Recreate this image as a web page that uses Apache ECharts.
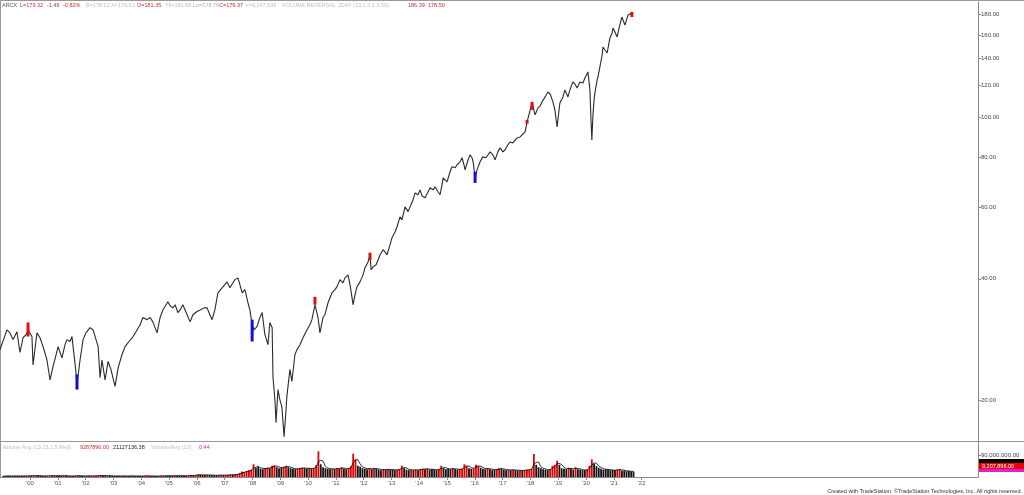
<!DOCTYPE html>
<html><head><meta charset="utf-8">
<script src="https://cdn.jsdelivr.net/npm/echarts@6/dist/echarts.min.js"></script>
<style>html,body{margin:0;padding:0;background:#fff}#c{width:1024px;height:495px}</style>
</head><body><div id="c"></div>
<script>
// ---- data (decimal years / prices) ----
const dates = [1998.92,1999.17,1999.28,1999.39,1999.53,1999.64,1999.75,1999.86,1999.93,2000.07,2000.11,2000.25,2000.36,2000.47,2000.61,2000.72,2000.83,2000.94,2001.01,2001.15,2001.26,2001.33,2001.44,2001.51,2001.55,2001.65,2001.69,2001.80,2001.91,2002.01,2002.16,2002.27,2002.34,2002.45,2002.52,2002.59,2002.70,2002.81,2002.91,2003.06,2003.17,2003.31,2003.42,2003.56,2003.71,2003.85,2003.96,2004.06,2004.21,2004.32,2004.42,2004.57,2004.68,2004.78,2004.96,2005.04,2005.14,2005.22,2005.32,2005.40,2005.50,2005.65,2005.76,2005.86,2006.01,2006.12,2006.26,2006.37,2006.47,2006.55,2006.65,2006.76,2006.91,2007.09,2007.19,2007.30,2007.37,2007.48,2007.55,2007.63,2007.73,2007.84,2007.91,2007.99,2008.06,2008.17,2008.27,2008.35,2008.45,2008.56,2008.63,2008.71,2008.74,2008.81,2008.85,2008.92,2008.99,2009.06,2009.14,2009.21,2009.24,2009.35,2009.42,2009.53,2009.60,2009.71,2009.82,2009.96,2010.07,2010.14,2010.25,2010.36,2010.43,2010.54,2010.61,2010.72,2010.86,2010.97,2011.04,2011.15,2011.26,2011.33,2011.44,2011.51,2011.58,2011.62,2011.69,2011.76,2011.87,2011.98,2012.05,2012.16,2012.23,2012.27,2012.34,2012.45,2012.52,2012.59,2012.70,2012.77,2012.84,2012.95,2013.02,2013.13,2013.20,2013.31,2013.38,2013.49,2013.60,2013.67,2013.78,2013.85,2013.96,2014.03,2014.10,2014.21,2014.32,2014.39,2014.50,2014.57,2014.68,2014.75,2014.82,2014.86,2015.00,2015.11,2015.18,2015.29,2015.36,2015.47,2015.54,2015.61,2015.65,2015.76,2015.83,2015.90,2015.94,2016.01,2016.08,2016.19,2016.29,2016.40,2016.55,2016.65,2016.73,2016.83,2016.91,2017.01,2017.09,2017.19,2017.27,2017.37,2017.52,2017.63,2017.70,2017.81,2017.88,2017.95,2018.06,2018.17,2018.27,2018.35,2018.42,2018.53,2018.63,2018.71,2018.81,2018.88,2018.96,2018.99,2019.06,2019.17,2019.24,2019.35,2019.42,2019.53,2019.60,2019.68,2019.78,2019.89,2019.96,2020.07,2020.14,2020.18,2020.21,2020.25,2020.29,2020.32,2020.40,2020.43,2020.50,2020.58,2020.61,2020.68,2020.76,2020.86,2020.94,2020.97,2021.04,2021.12,2021.19,2021.29,2021.40,2021.51,2021.58,2021.65];
const closes = [26.7,29.9,29.4,28.3,29.6,26.3,28.6,29.1,29.9,28.8,24.5,29.4,28.6,27.2,25.2,22.5,24.3,26.0,27.2,25.5,27.5,28.3,28.0,28.8,27.2,23.6,21.9,25.2,28.3,29.4,30.3,29.9,29.6,27.2,22.8,25.2,22.5,25.0,23.9,21.7,24.1,26.0,27.2,28.0,28.8,29.9,30.8,32.1,31.7,32.1,31.3,29.4,32.1,33.5,35.1,34.3,33.9,34.5,33.0,33.5,34.5,32.6,31.3,32.6,33.2,33.5,33.9,33.9,32.6,31.7,33.5,36.9,38.0,39.3,38.0,39.1,39.8,40.2,38.7,36.9,37.6,34.9,33.5,30.8,29.9,30.5,32.1,33.0,29.1,27.5,31.2,30.3,22.9,20.1,17.65,21.3,20.1,19.3,16.3,19.0,20.5,23.9,22.3,26.0,26.7,27.5,28.6,29.9,30.8,31.7,34.5,32.1,29.4,32.1,32.6,34.9,36.9,37.6,38.2,39.8,39.1,40.2,40.9,38.7,36.1,34.5,36.5,38.2,39.3,40.9,42.6,44.0,45.8,42.1,42.8,43.3,44.5,45.8,47.2,46.6,45.8,48.5,50.5,52.2,53.7,56.9,55.9,60.2,58.6,59.2,62.7,65.2,64.5,66.3,64.1,63.4,65.6,67.1,66.3,67.5,65.6,64.5,68.2,71.0,69.4,73.5,75.6,75.2,76.5,77.8,79.6,76.5,74.3,78.7,80.9,79.6,77.8,71.0,74.3,77.8,80.0,79.6,82.3,80.9,78.7,82.3,84.2,82.3,83.3,85.7,87.1,86.6,89.1,89.6,90.7,92.2,97.6,98.7,108.7,101.6,105.7,106.9,109.4,112.5,115.7,114.4,109.4,104.5,94.9,98.7,108.7,112.5,117.1,112.5,117.1,122.5,121.1,118.4,122.5,121.8,125.3,129.7,117.1,98.7,88.1,101.6,110.6,115.1,123.9,126.0,133.4,142.8,149.4,146.9,144.4,157.3,161.8,166.5,162.7,158.2,166.5,177.2,169.3,179.2,177.2,181.2];

// highlighted reversal bars: [date, low, high]
const redMarks = [[1999.93,28.8,31.2],[2010.25,34.5,36.1],[2012.23,44.5,46.4],[2017.88,96.6,98.7],[2018.06,104.5,109.4],[2021.65,177.2,182.5]];
const blueMarks = [[2001.69,21.3,23.2],[2007.99,28.0,31.7],[2016.01,69.0,73.5]];

// volume, millions, monthly from Jan 1999
const volStartYear = 1999;
const volumeM = [
 4,4,5,4,4,5,4,4,5,4,5,5,
 5,6,6,5,5,4,4,5,5,6,5,5,
 5,5,6,5,4,4,4,5,6,5,4,4,
 5,5,4,5,5,6,7,5,5,6,5,4,
 4,4,5,4,4,5,4,4,5,4,4,4,
 4,5,5,4,4,4,4,4,5,5,5,5,
 5,5,6,5,5,5,5,5,6,7,6,8,
 10,9,8,8,9,8,7,7,7,8,8,7,
 8,8,10,9,10,12,16,22,20,24,28,30,
 52,36,42,34,32,36,38,36,46,48,40,36,
 38,42,46,40,36,34,32,34,36,38,36,34,
 36,34,36,48,105,52,40,36,34,32,34,32,
 36,34,40,34,32,36,44,95,72,46,42,36,
 34,32,36,32,36,34,30,28,32,30,32,30,
 30,28,30,32,46,36,30,28,30,28,30,28,
 32,34,32,34,30,32,30,28,32,46,36,32,
 34,32,36,32,30,32,34,52,46,36,34,36,
 50,46,38,34,32,36,32,28,30,32,36,34,
 30,28,30,28,30,28,26,28,26,28,30,30,
 34,94,50,40,36,32,30,28,32,46,50,66,
 50,36,34,32,38,34,30,40,32,30,28,28,
 30,46,72,54,44,38,34,30,32,30,28,28,
 28,30,32,26,26,24,24,22,22];

const priceTicks = [20,40,60,80,100,120,140,160,180];
const yearTicks = [2000,2001,2002,2003,2004,2005,2006,2007,2008,2009,2010,2011,2012,2013,2014,2015,2016,2017,2018,2019,2020,2021,2022];

// ---- build ----
const X0 = 1998.921, X1 = 2034.10;
const priceData = dates.map((d,i)=>[d, closes[i]]);
const volData = volumeM.map((v,i)=>[volStartYear + (i+0.5)/12, v*1e6]);
const avgData = volData.map((p,i)=>{const s=volData.slice(Math.max(0,i-2),i+1);return [p[0], s.reduce((a,b)=>a+b[1],0)/s.length];});
const FONT = 'Liberation Sans, Arial, sans-serif';

function markSeries(data, color){
  return {type:'custom', xAxisIndex:0, yAxisIndex:0, data:data, z:5,
    renderItem:(params, api)=>{
      const a = api.coord([api.value(0), api.value(1)]);
      const b = api.coord([api.value(0), api.value(2)]);
      return {type:'rect', shape:{x:a[0]-1.5, y:b[1], width:3, height:Math.max(1,a[1]-b[1])}, style:{fill:color}};
    }};
}

function txt(x,y,t,color,size,align){
  return {type:'text', x:x, y:y, style:{text:t, fill:color, font:(size||5.5)+'px '+FONT, textAlign:align||'left', textVerticalAlign:'middle'}, silent:true};
}

const chart = echarts.init(document.getElementById('c'), null, {renderer:'canvas'});
chart.setOption({
  animation:false,
  backgroundColor:'#fff',
  grid:[
    {left:0, right:46, top:2, height:439},
    {left:0, right:46, top:442, height:35}
  ],
  xAxis:[
    {type:'value', gridIndex:0, min:X0, max:X1, show:false},
    {type:'value', gridIndex:1, min:X0, max:X1,
     axisLine:{show:true, lineStyle:{color:'#888', width:1}},
     axisTick:{show:true, customValues:yearTicks, length:3, lineStyle:{color:'#888'}},
     axisLabel:{show:true, customValues:yearTicks, margin:3, fontSize:6, fontFamily:FONT, color:'#555',
       formatter:v=>"'"+String(Math.round(v)).slice(2)},
     splitLine:{show:false}}
  ],
  yAxis:[
    {type:'log', logBase:10, gridIndex:0, position:'right', min:15.9, max:193,
     axisLine:{show:true, lineStyle:{color:'#888'}},
     axisTick:{show:true, customValues:priceTicks, length:3, inside:false, lineStyle:{color:'#888'}},
     axisLabel:{show:true, customValues:priceTicks, margin:3, fontSize:6, fontFamily:FONT, color:'#444',
       formatter:v=>Number(v).toFixed(2)},
     splitLine:{show:false}},
    {type:'value', gridIndex:1, position:'right', min:0, max:143e6, interval:90e6,
     axisLine:{show:true, lineStyle:{color:'#888'}},
     axisTick:{show:true, customValues:[90e6], length:3, lineStyle:{color:'#888'}},
     axisLabel:{show:true, customValues:[90e6], margin:3, fontSize:6, fontFamily:FONT, color:'#444',
       formatter:v=>Number(v).toLocaleString('en-US',{minimumFractionDigits:2, maximumFractionDigits:2})},
     splitLine:{show:false}}
  ],
  series:[
    {type:'line', xAxisIndex:0, yAxisIndex:0, data:priceData, showSymbol:false, symbol:'none',
     lineStyle:{color:'#2a2a2a', width:1.1}, z:3},
    markSeries(redMarks, '#e01010'),
    markSeries(blueMarks, '#1010d0'),
    {type:'bar', xAxisIndex:1, yAxisIndex:1, data:volData, barWidth:1.8, z:2,
     itemStyle:{color:p=>volData[p.dataIndex][1] > avgData[p.dataIndex][1] ? '#e00000' : '#111'}},
    {type:'line', xAxisIndex:1, yAxisIndex:1, data:avgData, showSymbol:false, symbol:'none',
     lineStyle:{color:'#000', width:0.8}, z:4}
  ],
  graphic:[
    {type:'line', shape:{x1:0,y1:0.5,x2:1024,y2:0.5}, style:{stroke:'#999', lineWidth:1}, silent:true},
    {type:'line', shape:{x1:0.5,y1:0,x2:0.5,y2:477}, style:{stroke:'#999', lineWidth:1}, silent:true},
    {type:'line', shape:{x1:0,y1:441.5,x2:1024,y2:441.5}, style:{stroke:'#999', lineWidth:1}, silent:true},
    txt(2,5.5,'ARCX','#555'),
    txt(20,5.5,'L=179.32','#d03030'),
    txt(47,5.5,'-1.46','#d03030'),
    txt(63,5.5,'-0.82%','#d03030'),
    txt(86,5.5,'B=178.92','#c0c0c0'),
    txt(111,5.5,'A=179.61','#c0c0c0'),
    txt(137,5.5,'O=181.35','#d03030'),
    txt(166,5.5,'Hi=181.88','#c0c0c0'),
    txt(193,5.5,'Lo=178.76','#b0b0b0'),
    txt(219,5.5,'C=179.37','#d03030'),
    txt(245,5.5,'V=9,247,638','#c0c0c0'),
    txt(282,5.5,'VOLUME REVERSAL 2DAY (13,1.3,1.3,50)','#c0c0c0'),
    txt(408,5.5,'186.39','#d03030'),
    txt(428,5.5,'178.50','#d03030'),
    txt(2,447,'Volume Avg (13,13,1.5,Red)','#c0c0c0'),
    txt(80,447,'9287896.00','#d03030'),
    txt(113,447,'21127136.38','#222'),
    txt(151,447,'Volume/Avg (13)','#c0c0c0'),
    txt(199,447,'0.44','#c030c0'),
    {type:'rect', shape:{x:979,y:459,width:45,height:4}, style:{fill:'#000'}, silent:true},
    {type:'rect', shape:{x:979,y:463,width:45,height:6}, style:{fill:'#ee0000'}, silent:true},
    {type:'rect', shape:{x:979,y:469,width:45,height:3}, style:{fill:'#e020d0'}, silent:true},
    txt(982,466,'9,207,896.00','#fff',5.5),
    txt(1022,491,'Created with TradeStation. \u00A9TradeStation Technologies, Inc. All rights reserved.','#333',5.5,'right')
  ]
});
</script></body></html>
